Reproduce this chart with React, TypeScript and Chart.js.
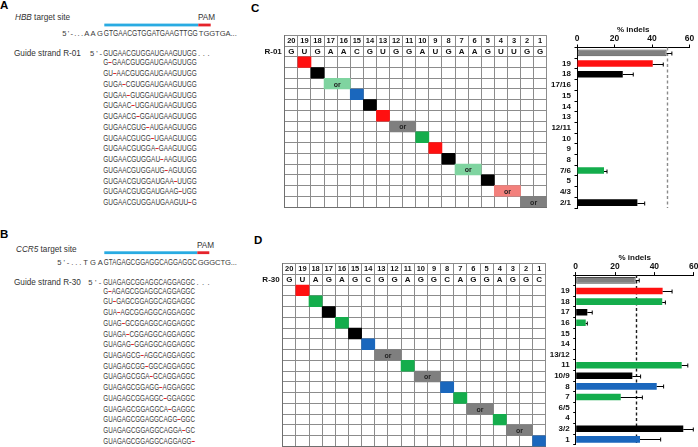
import React, { useEffect, useRef } from 'react';
import { Chart, registerables } from 'chart.js';

Chart.register(...registerables);

const FONT = "'Liberation Sans', Arial, Helvetica, sans-serif";
Chart.defaults.font.family = FONT;

// ---------- colours ----------
const RED = '#ff1010';
const BLACK = '#000000';
const GRAY = '#7f7f7f';
const LGREEN = '#7fd4a0';
const GREEN = '#14ad4c';
const BLUE = '#1a67bd';
const SALMON = '#f3807c';
const NONE = 'rgba(0,0,0,0)';

// ---------- panel A (HBB) ----------
const hbbPrefix = "5'-...AAG";
const hbbProtospacer = 'GTGAACGTGGATGAAGTTGG';
const hbbSuffix = 'TGGTGA...';
const hbbGuide = 'GUGAACGUGGAUGAAGUUGG';
const hbbDeletions = [
  'G-GAACGUGGAUGAAGUUGG',
  'GU-AACGUGGAUGAAGUUGG',
  'GUGA-CGUGGAUGAAGUUGG',
  'GUGAA-GUGGAUGAAGUUGG',
  'GUGAAC-UGGAUGAAGUUGG',
  'GUGAACG-GGAUGAAGUUGG',
  'GUGAACGUG-AUGAAGUUGG',
  'GUGAACGUGG-UGAAGUUGG',
  'GUGAACGUGGA-GAAGUUGG',
  'GUGAACGUGGAU-AAGUUGG',
  'GUGAACGUGGAUG-AGUUGG',
  'GUGAACGUGGAUGAA-UUGG',
  'GUGAACGUGGAUGAAG-UGG',
  'GUGAACGUGGAUGAAGUU-G',
];

// ---------- panel B (CCR5) ----------
const ccr5Prefix = "5'-...TGA";
const ccr5Protospacer = 'GTAGAGCGGAGGCAGGAGGC';
const ccr5Suffix = 'GGGCTG...';
const ccr5Guide = 'GUAGAGCGGAGGCAGGAGGC';
const ccr5Deletions = [
  'G-AGAGCGGAGGCAGGAGGC',
  'GU-GAGCGGAGGCAGGAGGC',
  'GUA-AGCGGAGGCAGGAGGC',
  'GUAG-GCGGAGGCAGGAGGC',
  'GUAGA-CGGAGGCAGGAGGC',
  'GUAGAG-GGAGGCAGGAGGC',
  'GUAGAGCG-AGGCAGGAGGC',
  'GUAGAGCGG-GGCAGGAGGC',
  'GUAGAGCGGA-GCAGGAGGC',
  'GUAGAGCGGAGG-AGGAGGC',
  'GUAGAGCGGAGGC-GGAGGC',
  'GUAGAGCGGAGGCA-GAGGC',
  'GUAGAGCGGAGGCAGG-GGC',
  'GUAGAGCGGAGGCAGGA-GC',
  'GUAGAGCGGAGGCAGGAGG-',
];

// ---------- grids ----------
const positions = ['20', '19', '18', '17', '16', '15', '14', '13', '12', '11', '10', '9', '8', '7', '6', '5', '4', '3', '2', '1'];

const cSequence = ['G', 'U', 'G', 'A', 'A', 'C', 'G', 'U', 'G', 'G', 'A', 'U', 'G', 'A', 'A', 'G', 'U', 'U', 'G', 'G'];
const cRows = ['19', '18', '17/16', '15', '14', '13', '12/11', '10', '9', '8', '7/6', '5', '4/3', '2/1'];
const cCellColors = [RED, BLACK, LGREEN, BLUE, BLACK, RED, GRAY, GREEN, RED, BLACK, LGREEN, BLACK, SALMON, GRAY];

const dSequence = ['G', 'U', 'A', 'G', 'A', 'G', 'C', 'G', 'G', 'A', 'G', 'G', 'C', 'A', 'G', 'G', 'A', 'G', 'G', 'C'];
const dRows = ['19', '18', '17', '16', '15', '14', '13/12', '11', '10/9', '8', '7', '6/5', '4', '3/2', '1'];
const dCellColors = [RED, GREEN, BLACK, GREEN, BLACK, BLUE, GRAY, GREEN, GRAY, BLUE, GREEN, GRAY, GREEN, GRAY, BLUE];

// ---------- bar charts (% indels) ----------
const cBarLabels = ['', ...cRows];
const cIndels = [47.8, 40.4, 24.4, null, null, null, null, null, null, null, null, 14.4, null, null, 32.2];
const cErrors = [2.8, 5.6, 5.6, null, null, null, null, null, null, null, null, 1.6, null, null, 3.9];
const cBarColors = [GRAY, RED, BLACK, NONE, NONE, NONE, NONE, NONE, NONE, NONE, NONE, GREEN, NONE, NONE, BLACK];

const dBarLabels = ['', ...dRows];
const dIndels = [30.5, 44.2, 44.0, 5.9, 5.1, null, null, null, 53.9, 28.8, 41.2, 22.9, null, null, 54.7, 32.7];
const dErrors = [1.8, 4.8, 1.6, 2.5, 0.8, null, null, null, 3.1, 4.2, 3.5, 11.0, null, null, 5.1, 10.5];
const dBarColors = [GRAY, RED, GREEN, BLACK, GREEN, NONE, NONE, NONE, GREEN, BLACK, BLUE, GREEN, NONE, NONE, BLACK, BLUE];

const indelTicks = [0, 20, 40, 60];

// ---------- helpers ----------
function span(label: string): [number, number] {
  const ps = label.split('/').map(Number);
  const hi = Math.max(...ps);
  const lo = Math.min(...ps);
  return [20 - hi, 21 - lo];
}

function zeroPad(s: any) {
  s.paddingLeft = 0;
  s.paddingRight = 0;
  s.paddingTop = 0;
  s.paddingBottom = 0;
}

function gridConfig(seq: string[], rows: string[], cellColors: string[], label: string, pad: any) {
  const labels = ['pos', 'seq', ...rows];
  const data: any[] = [null, null, ...rows.map(span)];
  const colors = [NONE, NONE, ...cellColors];
  const textPlugin = {
    id: 'gridText',
    afterDatasetsDraw(chart: any) {
      const { ctx } = chart;
      const x = chart.scales.x;
      const y = chart.scales.y;
      ctx.save();
      ctx.fillStyle = '#111';
      ctx.textAlign = 'center';
      ctx.textBaseline = 'middle';
      ctx.font = `bold 7.5px ${FONT}`;
      positions.forEach((p, i) => ctx.fillText(p, x.getPixelForValue(i + 0.5), y.getPixelForValue(0) + 0.5));
      ctx.font = `bold 8px ${FONT}`;
      seq.forEach((s, i) => ctx.fillText(s, x.getPixelForValue(i + 0.5), y.getPixelForValue(1) + 0.5));
      ctx.textAlign = 'right';
      ctx.fillText(label, x.getPixelForValue(0) - 3, y.getPixelForValue(1) + 0.5);
      ctx.textAlign = 'center';
      ctx.font = `bold 7px ${FONT}`;
      ctx.fillStyle = '#222';
      rows.forEach((r, k) => {
        if (r.indexOf('/') < 0) return;
        const [a, b] = span(r);
        ctx.fillText('or', x.getPixelForValue((a + b) / 2), y.getPixelForValue(k + 2) + 1);
      });
      ctx.restore();
    },
  };
  return {
    type: 'bar',
    data: {
      labels,
      datasets: [
        {
          data,
          backgroundColor: colors,
          borderWidth: 0,
          barPercentage: 1,
          categoryPercentage: 1,
        },
      ],
    },
    options: {
      indexAxis: 'y',
      animation: false,
      responsive: false,
      devicePixelRatio: 1,
      events: [],
      layout: { padding: pad },
      plugins: { legend: { display: false }, tooltip: { enabled: false } },
      scales: {
        x: {
          type: 'linear',
          min: 0,
          max: 20,
          ticks: { display: false, stepSize: 1 },
          grid: { drawTicks: false, color: '#8c8c8c', lineWidth: 1 },
          border: { display: true, color: '#6f6f6f' },
          afterFit: (s: any) => {
            s.height = 0;
            zeroPad(s);
          },
        },
        y: {
          type: 'category',
          ticks: { display: false },
          grid: { drawTicks: false, offset: true, color: '#8c8c8c', lineWidth: 1 },
          border: { display: true, color: '#6f6f6f' },
          afterFit: (s: any) => {
            s.width = 0;
            zeroPad(s);
          },
        },
      },
    },
    plugins: [textPlugin],
  };
}

function barConfig(o: {
  labels: string[];
  values: (number | null)[];
  errors: (number | null)[];
  colors: string[];
  dashColor: string;
  yWidth: number;
  xHeight: number;
  pad: any;
  titlePad: number;
  tickPad: number;
}) {
  const refValue = o.values[0] as number;
  const overlay = {
    id: 'overlay',
    beforeDatasetsDraw(chart: any) {
      const { ctx, chartArea } = chart;
      const x = chart.scales.x;
      const xr = Math.round(x.getPixelForValue(refValue)) + 0.5;
      ctx.save();
      ctx.strokeStyle = o.dashColor;
      ctx.lineWidth = 1.4;
      ctx.setLineDash([3, 2.5]);
      ctx.beginPath();
      ctx.moveTo(xr, chartArea.top);
      ctx.lineTo(xr, chartArea.bottom);
      ctx.stroke();
      ctx.restore();
    },
    afterDatasetsDraw(chart: any) {
      const { ctx } = chart;
      const x = chart.scales.x;
      const meta = chart.getDatasetMeta(0);
      ctx.save();
      ctx.strokeStyle = '#000';
      ctx.lineWidth = 1;
      meta.data.forEach((bar: any, i: number) => {
        const v = o.values[i];
        const e = o.errors[i];
        if (v == null || e == null) return;
        const x1 = x.getPixelForValue(v);
        const x2 = x.getPixelForValue(v + e);
        const yy = Math.round(bar.y) + 0.5;
        ctx.beginPath();
        ctx.moveTo(x1, yy);
        ctx.lineTo(x2, yy);
        ctx.moveTo(x2, yy - 2);
        ctx.lineTo(x2, yy + 2);
        ctx.stroke();
      });
      ctx.restore();
    },
  };
  return {
    type: 'bar',
    data: {
      labels: o.labels,
      datasets: [
        {
          data: o.values,
          backgroundColor: o.colors,
          borderColor: o.colors.map((c, i) => (i === 0 ? '#4a4a4a' : c)),
          borderWidth: o.colors.map((c, i) => (i === 0 ? 1 : 0)),
          borderSkipped: false,
          barPercentage: 0.62,
          categoryPercentage: 1,
        },
      ],
    },
    options: {
      indexAxis: 'y',
      animation: false,
      responsive: false,
      devicePixelRatio: 1,
      events: [],
      layout: { padding: o.pad },
      plugins: { legend: { display: false }, tooltip: { enabled: false } },
      scales: {
        x: {
          type: 'linear',
          position: 'top',
          min: 0,
          max: 60,
          afterBuildTicks: (s: any) => {
            s.ticks = indelTicks.map((v) => ({ value: v }));
          },
          ticks: { padding: o.tickPad, color: '#111', font: { size: 8.5, weight: 'bold' } },
          grid: { drawOnChartArea: false, drawTicks: true, tickLength: 3, color: '#000' },
          border: { display: true, color: '#000', width: 1 },
          title: {
            display: true,
            text: '% indels',
            color: '#111',
            font: { size: 8, weight: 'bold' },
            padding: { top: o.titlePad, bottom: 0 },
          },
          afterFit: (s: any) => {
            s.height = o.xHeight;
            zeroPad(s);
          },
        },
        y: {
          type: 'category',
          ticks: { padding: 3.5, color: '#111', font: { size: 8, weight: 'bold' }, autoSkip: false },
          grid: { drawOnChartArea: false, drawTicks: true, tickLength: 2.5, offset: true, color: '#000' },
          border: { display: true, color: '#000', width: 1 },
          afterFit: (s: any) => {
            s.width = o.yWidth;
            zeroPad(s);
          },
        },
      },
    },
    plugins: [overlay],
  };
}

function ChartBox(props: { left: number; top: number; width: number; height: number; make: () => any }) {
  const ref = useRef<HTMLCanvasElement>(null);
  useEffect(() => {
    const chart = new Chart(ref.current as HTMLCanvasElement, props.make());
    return () => chart.destroy();
  }, []);
  return (
    <canvas
      ref={ref}
      width={props.width}
      height={props.height}
      style={{ position: 'absolute', left: props.left, top: props.top, width: props.width, height: props.height }}
    />
  );
}

// ---------- text panels (SVG) ----------
const SEQ_COLOR = '#3a3a3a';
const DASH_COLOR = '#e0262b';
const SEQ_SIZE = 8.6;

// glyph-compressed sequence text (fixed width)
function Seq(props: { x: number; y: number; w: number; s: string }) {
  return (
    <text x={props.x} y={props.y} textLength={props.w} lengthAdjust="spacingAndGlyphs" fontSize={SEQ_SIZE} fill={SEQ_COLOR}>
      {props.s}
    </text>
  );
}

// spaced (not stretched) text such as 5'-... and ...
function Spaced(props: { x: number; y: number; w: number; s: string }) {
  return (
    <text x={props.x} y={props.y} textLength={props.w} lengthAdjust="spacing" fontSize={7.6} fill={SEQ_COLOR}>
      {props.s}
    </text>
  );
}

function DelRow(props: { x: number; y: number; w: number; s: string }) {
  const parts = props.s.split('-');
  return (
    <text x={props.x} y={props.y} textLength={props.w} lengthAdjust="spacingAndGlyphs" fontSize={SEQ_SIZE} fill={SEQ_COLOR}>
      {parts.map((p, i) => (
        <React.Fragment key={i}>
          {i > 0 && (
            <tspan fill={DASH_COLOR} fontWeight="bold">
              –
            </tspan>
          )}
          {p && <tspan>{p}</tspan>}
        </React.Fragment>
      ))}
    </text>
  );
}

function TextPanels() {
  return (
    <svg width={698} height={447} style={{ position: 'absolute', left: 0, top: 0 }}>
      <g fontFamily={FONT}>
        {/* Panel labels */}
        <text x={0} y={8.5} fontSize={11.5} fontWeight="bold" fill="#000">A</text>
        <text x={0} y={237.5} fontSize={11.5} fontWeight="bold" fill="#000">B</text>
        <text x={251} y={11.5} fontSize={11.5} fontWeight="bold" fill="#000">C</text>
        <text x={254} y={244} fontSize={11.5} fontWeight="bold" fill="#000">D</text>

        {/* Panel A */}
        <text x={15} y={20.2} fontSize={8.2} fill="#333">
          <tspan fontStyle="italic">HBB</tspan> target site
        </text>
        <text x={198} y={19.6} fontSize={8.2} fill="#333">PAM</text>
        <rect x={104.3} y={23.6} width={94} height={2.8} fill="#29abe2" />
        <rect x={198.3} y={23.6} width={12.4} height={2.8} fill="#e5232b" />
        <Spaced x={62.3} y={36} w={40.5} s={hbbPrefix} />
        <Seq x={103.8} y={36} w={94} s={hbbProtospacer} />
        <Spaced x={198.8} y={36} w={38} s={hbbSuffix} />
        <text x={14} y={55.6} fontSize={8.2} fill="#333">Guide strand R-01</text>
        <Spaced x={90} y={55.6} w={12} s={"5'-"} />
        <Seq x={103.3} y={55.6} w={93.4} s={hbbGuide} />
        <Spaced x={198} y={55.6} w={11.5} s={'...'} />
        {hbbDeletions.map((s, k) => (
          <DelRow key={k} x={103.3} y={65.3 + k * 10.75} w={93.4} s={s} />
        ))}

        {/* Panel B */}
        <text x={16} y={252} fontSize={8.2} fill="#333">
          <tspan fontStyle="italic">CCR5</tspan> target site
        </text>
        <text x={197} y={248} fontSize={8.2} fill="#333">PAM</text>
        <rect x={104.3} y={251.3} width={93} height={2.8} fill="#29abe2" />
        <rect x={197.3} y={251.3} width={12} height={2.8} fill="#e5232b" />
        <Spaced x={57.3} y={265.2} w={45.5} s={ccr5Prefix} />
        <Seq x={103.8} y={265.2} w={93} s={ccr5Protospacer} />
        <Spaced x={197.8} y={265.2} w={39} s={ccr5Suffix} />
        <text x={14} y={284.6} fontSize={8.2} fill="#333">Guide strand R-30</text>
        <Spaced x={88.3} y={284.6} w={13} s={"5'-"} />
        <Seq x={103.3} y={284.6} w={91.7} s={ccr5Guide} />
        <Spaced x={196.5} y={284.6} w={13} s={'...'} />
        {ccr5Deletions.map((s, k) => (
          <DelRow key={k} x={103.3} y={293.7 + k * 10.71} w={91.7} s={s} />
        ))}
      </g>
    </svg>
  );
}

export default function App() {
  return (
    <div
      style={{
        position: 'absolute',
        left: 0,
        top: 0,
        width: 698,
        height: 447,
        background: '#fff',
        overflow: 'hidden',
      }}
    >
      <TextPanels />
      <ChartBox
        left={262}
        top={30}
        width={290}
        height={182}
        make={() =>
          gridConfig(cSequence, cRows, cCellColors, 'R-01', { left: 22.8, top: 5.3, right: 5.3, bottom: 5 })
        }
      />
      <ChartBox
        left={260}
        top={258}
        width={292}
        height={189}
        make={() =>
          gridConfig(dSequence, dRows, dCellColors, 'R-30', { left: 22.7, top: 5.5, right: 6.2, bottom: 0.5 })
        }
      />
      <ChartBox
        left={538}
        top={18}
        width={160}
        height={200}
        make={() =>
          barConfig({
            labels: cBarLabels,
            values: cIndels,
            errors: cErrors,
            colors: cBarColors,
            dashColor: '#8a8a8a',
            yWidth: 39,
            xHeight: 29.5,
            pad: { left: 0, top: 0, right: 8.5, bottom: 10 },
            titlePad: 7.2,
            tickPad: 0.5,
          })
        }
      />
      <ChartBox
        left={538}
        top={246}
        width={160}
        height={201}
        make={() =>
          barConfig({
            labels: dBarLabels,
            values: dIndels,
            errors: dErrors,
            colors: dBarColors,
            dashColor: '#1a1a1a',
            yWidth: 37.7,
            xHeight: 29.1,
            pad: { left: 0, top: 0, right: 4.3, bottom: 2.3 },
            titlePad: 6.9,
            tickPad: 0.4,
          })
        }
      />
    </div>
  );
}
